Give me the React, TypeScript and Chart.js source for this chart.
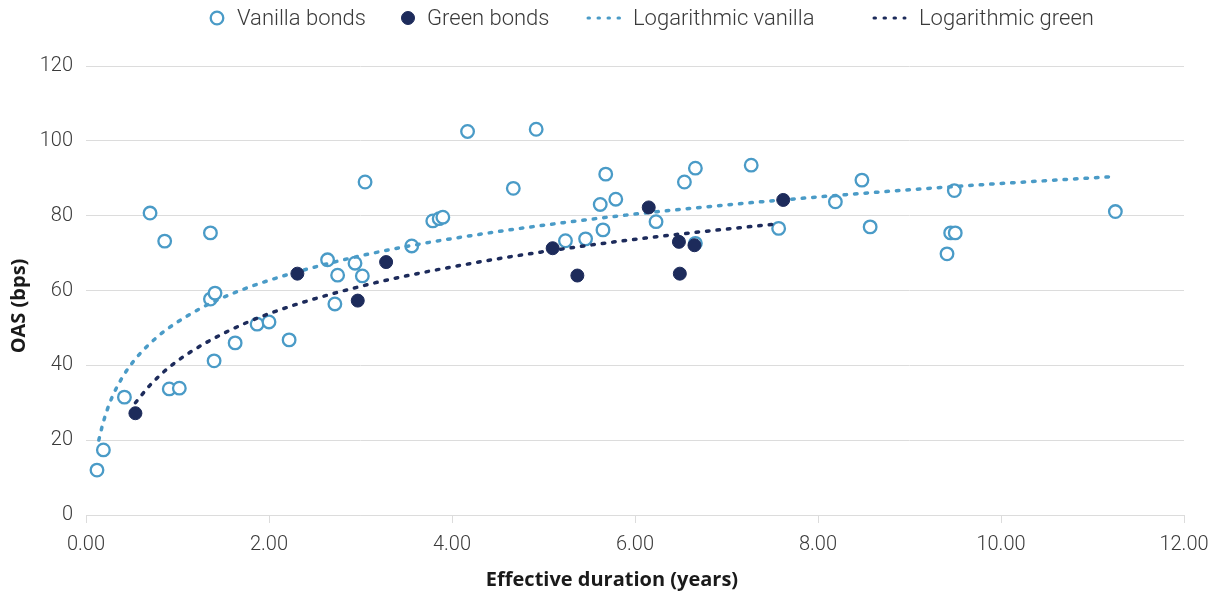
import React, { useEffect, useRef } from 'react';
import { Chart, registerables } from 'chart.js';

Chart.register(...registerables);

// ---- Data ----
const vanillaX = [0.12, 0.19, 0.42, 0.70, 0.86, 0.91, 1.02, 1.36, 1.36, 1.41, 1.40, 1.63, 1.87, 2.00, 2.22, 2.64, 2.75, 2.72, 2.94, 3.02, 3.05, 3.56, 3.79, 3.86, 3.90, 4.17, 4.67, 4.92, 5.24, 5.46, 5.62, 5.65, 5.68, 5.79, 6.23, 6.54, 6.66, 6.66, 7.27, 7.57, 8.19, 8.48, 8.57, 9.41, 9.45, 9.50, 9.49, 11.25];
const vanillaY = [12.0, 17.4, 31.5, 80.7, 73.2, 33.7, 33.9, 75.4, 57.7, 59.3, 41.2, 46.0, 51.0, 51.6, 46.8, 68.2, 64.1, 56.4, 67.3, 63.9, 89.0, 71.9, 78.6, 79.2, 79.6, 102.5, 87.3, 103.1, 73.3, 73.8, 83.0, 76.2, 91.1, 84.4, 78.4, 89.0, 92.7, 72.6, 93.5, 76.6, 83.7, 89.5, 77.0, 69.8, 75.4, 75.4, 86.7, 81.1];

const greenX = [0.54, 2.31, 2.97, 3.28, 5.10, 5.37, 6.15, 6.48, 6.49, 6.65, 7.62];
const greenY = [27.2, 64.5, 57.3, 67.6, 71.3, 64.0, 82.2, 73.0, 64.5, 72.1, 84.2];

const vanillaTrendX = [0.14, 0.18, 0.23, 0.3, 0.41, 0.52, 0.66, 0.85, 1.1, 1.43, 1.9, 2.63, 3.36, 4.27, 5.5, 6.5, 8.0, 9.5, 11.2];
const vanillaTrendY = [20.0, 24.0, 28.0, 32.3, 37.3, 41.1, 44.9, 49.0, 53.1, 57.4, 61.9, 67.1, 71.1, 74.9, 79.0, 81.7, 85.0, 87.8, 90.4];

const greenTrendX = [0.54, 0.7, 0.88, 1.1, 1.5, 2.0, 3.0, 4.27, 5.5, 6.5, 7.55];
const greenTrendY = [30.0, 34.7, 38.9, 42.9, 48.5, 53.8, 61.1, 67.5, 72.1, 75.1, 77.8];

const seriesLabels = ['Vanilla bonds', 'Green bonds', 'Logarithmic vanilla', 'Logarithmic green'];
const xTickValues = [0, 2, 4, 6, 8, 10, 12];
const yTickValues = [0, 20, 40, 60, 80, 100, 120];
const xTitle = 'Effective duration (years)';
const yTitle = 'OAS (bps)';

// ---- Styles ----
const VANILLA = '#4a9bc7';
const GREEN = '#1d2b5b';
const GRID = '#dcdcdc';
const TEXT = '#3a3a3a';
const TITLE = '#1a1a1a';
const FAMILY = 'Roboto, "Noto Sans", sans-serif';
const TITLE_FAMILY = '"Open Sans", Roboto, sans-serif';
const FONT_SIZE = 20;

const toPts = (xs: number[], ys: number[]) => xs.map((x, i) => ({ x, y: ys[i] }));

const legendPlugin = {
  id: 'customLegend',
  afterDraw(chart: any, _args: any, opts: any) {
    const ctx = chart.ctx as CanvasRenderingContext2D;
    ctx.save();
    ctx.font = `300 ${opts.fontSize}px ${FAMILY}`;
    ctx.textBaseline = 'middle';
    ctx.textAlign = 'left';
    const y = opts.y;
    opts.items.forEach((it: any) => {
      const ds = chart.data.datasets[it.datasetIndex];
      ctx.save();
      if (it.kind === 'point') {
        ctx.beginPath();
        ctx.arc(it.x, y, it.r, 0, Math.PI * 2);
        ctx.fillStyle = ds.backgroundColor;
        ctx.fill();
        ctx.lineWidth = ds.borderWidth;
        ctx.strokeStyle = ds.borderColor;
        ctx.stroke();
      } else {
        ctx.beginPath();
        ctx.setLineDash(it.dash);
        ctx.lineCap = 'round';
        ctx.lineWidth = it.lw;
        ctx.strokeStyle = ds.borderColor;
        ctx.moveTo(it.x, y);
        ctx.lineTo(it.x + it.w, y);
        ctx.stroke();
      }
      ctx.restore();
      ctx.fillStyle = TEXT;
      ctx.fillText(ds.label, it.textX, y + 1);
    });

    // axis titles
    const t = opts.titles;
    ctx.font = `bold ${t.size}px ${TITLE_FAMILY}`;
    ctx.fillStyle = TITLE;
    ctx.textAlign = 'center';
    ctx.textBaseline = 'middle';
    ctx.fillText(xTitle, t.xCx, t.xCy);
    ctx.save();
    ctx.translate(t.yCx, t.yCy);
    ctx.rotate(-Math.PI / 2);
    ctx.fillText(yTitle, 0, 0);
    ctx.restore();
    ctx.restore();
  },
};

export default function App() {
  const canvasRef = useRef<HTMLCanvasElement | null>(null);

  useEffect(() => {
    if (!canvasRef.current) return;
    const chart = new Chart(canvasRef.current, {
      type: 'scatter',
      data: {
        datasets: [
          {
            label: seriesLabels[0],
            data: toPts(vanillaX, vanillaY),
            pointStyle: 'circle',
            pointRadius: 6.3,
            pointBorderWidth: 2.3,
            borderWidth: 2.3,
            backgroundColor: '#ffffff',
            borderColor: VANILLA,
            pointBackgroundColor: '#ffffff',
            pointBorderColor: VANILLA,
            order: 3,
          },
          {
            label: seriesLabels[1],
            data: toPts(greenX, greenY),
            pointStyle: 'circle',
            pointRadius: 6.5,
            pointBorderWidth: 1,
            borderWidth: 1,
            backgroundColor: GREEN,
            borderColor: GREEN,
            pointBackgroundColor: GREEN,
            pointBorderColor: GREEN,
            order: 0,
          },
          {
            type: 'line',
            label: seriesLabels[2],
            data: toPts(vanillaTrendX, vanillaTrendY),
            showLine: true,
            pointRadius: 0,
            borderColor: VANILLA,
            backgroundColor: VANILLA,
            borderWidth: 3.5,
            borderDash: [2.5, 8],
            borderCapStyle: 'round',
            cubicInterpolationMode: 'monotone',
            fill: false,
            order: 1,
          },
          {
            type: 'line',
            label: seriesLabels[3],
            data: toPts(greenTrendX, greenTrendY),
            showLine: true,
            pointRadius: 0,
            borderColor: GREEN,
            backgroundColor: GREEN,
            borderWidth: 3.5,
            borderDash: [2.5, 8],
            borderCapStyle: 'round',
            cubicInterpolationMode: 'monotone',
            fill: false,
            order: 2,
          },
        ] as any,
      },
      options: {
        responsive: false,
        animation: false,
        devicePixelRatio: 1,
        layout: { padding: { top: 66, right: 31, left: 0, bottom: 0 } },
        plugins: {
          legend: { display: false },
          tooltip: { enabled: false },
          customLegend: {
            y: 18,
            fontSize: 22,
            items: [
              { datasetIndex: 0, kind: 'point', x: 217, r: 6.3, textX: 237 },
              { datasetIndex: 1, kind: 'point', x: 408, r: 6.5, textX: 427 },
              { datasetIndex: 2, kind: 'line', x: 588, w: 40, lw: 3, dash: [1.5, 8.5], textX: 633 },
              { datasetIndex: 3, kind: 'line', x: 874, w: 31, lw: 3, dash: [1.5, 8.5], textX: 919 },
            ],
            titles: { size: 20, xCx: 612, xCy: 580, yCx: 19, yCy: 306 },
          },
        } as any,
        scales: {
          x: {
            type: 'linear',
            min: 0,
            max: 12,
            afterBuildTicks: (axis: any) => {
              axis.ticks = xTickValues.map((v) => ({ value: v }));
            },
            afterFit: (s: any) => {
              s.height = 80;
              s.paddingRight = 0;
              s.paddingLeft = 0;
            },
            ticks: {
              callback: (v: any) => Number(v).toFixed(2),
              font: { family: FAMILY, size: FONT_SIZE, weight: '300' },
              color: TEXT,
              padding: 10,
              maxRotation: 0,
              autoSkip: false,
            },
            grid: { drawOnChartArea: false, drawTicks: true, tickLength: 8, color: GRID },
            border: { display: true, color: GRID, width: 1 },
            title: { display: false },
          },
          y: {
            type: 'linear',
            min: 0,
            max: 120,
            afterBuildTicks: (axis: any) => {
              axis.ticks = yTickValues.map((v) => ({ value: v }));
            },
            afterFit: (s: any) => {
              s.width = 86;
            },
            ticks: {
              font: { family: FAMILY, size: FONT_SIZE, weight: '300' },
              color: TEXT,
              padding: 13,
            },
            grid: { color: GRID, drawTicks: false, lineWidth: 1 },
            border: { display: false },
            title: { display: false },
          },
        } as any,
      },
      plugins: [legendPlugin],
    } as any);
    return () => chart.destroy();
  }, []);

  return (
    <div style={{ position: 'fixed', left: 0, top: 0, width: 1215, height: 595, background: '#ffffff' }}>
      <canvas ref={canvasRef} width={1215} height={595} style={{ display: 'block', width: 1215, height: 595 }} />
    </div>
  );
}
